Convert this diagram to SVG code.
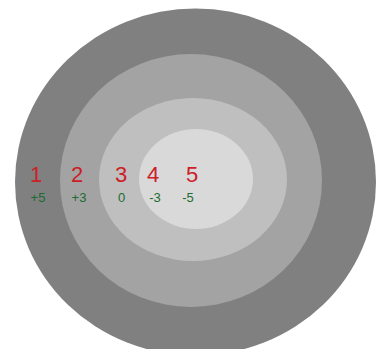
<svg xmlns="http://www.w3.org/2000/svg" width="385" height="349" viewBox="0 0 385 349">
<style>
.n{font-family:"Liberation Sans",Arial,sans-serif;font-size:22px;fill:#cc2027;text-anchor:middle}
.s{font-family:"Liberation Sans",Arial,sans-serif;font-size:13px;fill:#1c6b30;text-anchor:middle}
</style>
<rect width="385" height="349" fill="#ffffff"/>
<g id="ring1"><ellipse cx="195.5" cy="182" rx="180.5" ry="173.5" fill="#808080"/></g>
<g id="ring2"><ellipse cx="191" cy="180.5" rx="131" ry="126.5" fill="#a3a3a3"/></g>
<g id="ring3"><ellipse cx="193" cy="179.5" rx="94" ry="81.5" fill="#bfbfbf"/></g>
<g id="ring4"><ellipse cx="196" cy="179" rx="57" ry="50" fill="#d9d9d9"/></g>
<g id="labels">
<text class="n" x="36" y="182">1</text>
<text class="n" x="77" y="182">2</text>
<text class="n" x="121" y="182">3</text>
<text class="n" x="153" y="182">4</text>
<text class="n" x="192" y="182">5</text>
<text class="s" x="38" y="201.5">+5</text>
<text class="s" x="79" y="201.5">+3</text>
<text class="s" x="121.5" y="201.5">0</text>
<text class="s" x="155" y="201.5">-3</text>
<text class="s" x="188" y="201.5">-5</text>
</g>
<g id="connectors"></g>
</svg>
